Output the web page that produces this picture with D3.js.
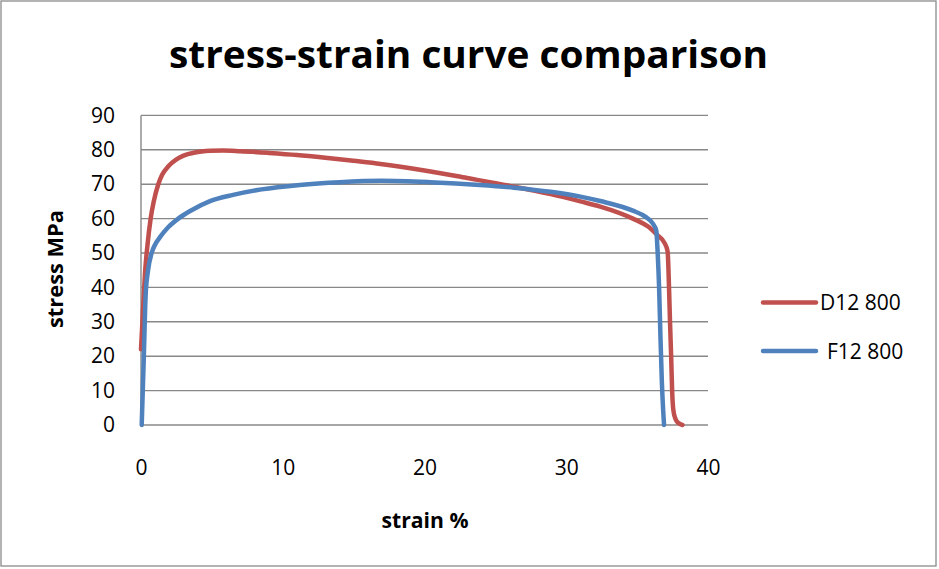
<!DOCTYPE html>
<html>
<head>
<meta charset="utf-8">
<script src="https://cdn.jsdelivr.net/npm/d3@7"></script>
<style>
  body { margin: 0; background: #fff; }
  svg { display: block; }
  text { font-family: "Open Sans", "DejaVu Sans", sans-serif; fill: #000; }
</style>
</head>
<body>
<svg id="chart" width="939" height="569"></svg>
<script>
// Axis ticks
const xTicks = [0, 10, 20, 30, 40];
const yTicks = [0, 10, 20, 30, 40, 50, 60, 70, 80, 90];

// Series names
const seriesNames = ["D12 800", "F12 800"];

// D12 800: strain (%) and stress (MPa)
const d12Strain = [0, 0.15, 0.28, 0.45, 0.68, 0.9, 1.22, 1.5, 1.93, 2.5, 3.0, 3.8, 4.9, 5.8, 7, 9, 11, 13, 15, 16.9, 20, 23, 26.3, 28.9, 31, 32.4, 34.7, 35.8, 36.4, 36.95, 37.15, 37.25, 37.32, 37.4, 37.47, 37.55, 37.7, 37.9, 38.2];
const d12Stress = [22, 34, 44, 52, 60, 65, 70, 72.8, 75.2, 77.2, 78.3, 79.2, 79.7, 79.8, 79.6, 79.1, 78.5, 77.7, 76.8, 75.9, 74.0, 71.8, 69.3, 67.1, 65.0, 63.5, 60.0, 57.6, 55.3, 52.8, 50.5, 40, 30, 20, 10, 4.5, 1.8, 0.6, 0];

// F12 800: strain (%) and stress (MPa)
const f12Strain = [0.05, 0.2, 0.33, 0.5, 0.75, 1.0, 1.34, 1.9, 2.63, 3.5, 4.87, 6.5, 8.5, 11.2, 14, 17, 20.4, 23.9, 26.3, 28.9, 31, 32.4, 34.7, 35.6, 36.1, 36.35, 36.45, 36.55, 36.65, 36.75, 36.9];
const f12Stress = [0, 20, 38, 45, 50, 52.5, 54.6, 57.4, 60, 62.3, 65.1, 66.9, 68.5, 69.8, 70.6, 71.0, 70.6, 69.8, 69.0, 67.8, 66.4, 65.1, 62.3, 60.5, 58.6, 56.5, 50, 40, 25, 12, 0];

const svg = d3.select("#chart");

const red = "#C0504D";
const blue = "#4F81BD";
const gridColor = "#888888";

// Outer chart frame
svg.append("rect")
  .attr("x", 1).attr("y", 1)
  .attr("width", 935).attr("height", 565)
  .attr("fill", "#fff")
  .attr("stroke", "#8a8a8a")
  .attr("stroke-width", 1.3);

const x = d3.scaleLinear().domain([0, 40]).range([141, 708]);
const y = d3.scaleLinear().domain([0, 90]).range([425, 115.4]);

// Horizontal gridlines
svg.append("g")
  .selectAll("line")
  .data(yTicks)
  .join("line")
  .attr("x1", x(0)).attr("x2", x(40))
  .attr("y1", d => y(d)).attr("y2", d => y(d))
  .attr("stroke", gridColor)
  .attr("stroke-width", 1.4);

// Vertical value axis line
svg.append("line")
  .attr("x1", x(0)).attr("x2", x(0))
  .attr("y1", y(0)).attr("y2", y(90))
  .attr("stroke", gridColor)
  .attr("stroke-width", 1.4);

// Y tick labels
const yAxis = svg.append("g")
  .attr("transform", `translate(${x(0)},0)`)
  .call(d3.axisLeft(y).tickValues(yTicks).tickSize(0).tickPadding(26));
yAxis.select(".domain").remove();
yAxis.selectAll("text")
  .attr("font-family", "Open Sans, sans-serif")
  .attr("font-size", 21)
  .attr("fill", "#000");

// X tick labels
const xAxis = svg.append("g")
  .attr("transform", `translate(0,${y(0)})`)
  .call(d3.axisBottom(x).tickValues(xTicks).tickSize(0).tickPadding(35));
xAxis.select(".domain").remove();
xAxis.selectAll("text")
  .attr("font-family", "Open Sans, sans-serif")
  .attr("font-size", 21)
  .attr("fill", "#000");

// Curves
const line = d3.line()
  .x(d => x(d[0]))
  .y(d => y(d[1]))
  .curve(d3.curveMonotoneX);

const d12 = d3.zip(d12Strain, d12Stress);
const f12 = d3.zip(f12Strain, f12Stress);

svg.append("path")
  .datum(d12)
  .attr("d", line)
  .attr("fill", "none")
  .attr("stroke", red)
  .attr("stroke-width", 4.5)
  .attr("stroke-linejoin", "round")
  .attr("stroke-linecap", "round");

svg.append("path")
  .datum(f12)
  .attr("d", line)
  .attr("fill", "none")
  .attr("stroke", blue)
  .attr("stroke-width", 4.5)
  .attr("stroke-linejoin", "round")
  .attr("stroke-linecap", "round");

// Title
svg.append("text")
  .attr("x", 169).attr("y", 68)
  .attr("font-size", 38)
  .attr("font-weight", "bold")
  .attr("textLength", 599)
  .attr("lengthAdjust", "spacingAndGlyphs")
  .text("stress-strain curve comparison");

// Axis titles
svg.append("text")
  .attr("transform", "translate(63,269) rotate(-90)")
  .attr("text-anchor", "middle")
  .attr("font-size", 21)
  .attr("font-weight", "bold")
  .attr("textLength", 118)
  .attr("lengthAdjust", "spacingAndGlyphs")
  .text("stress MPa");

svg.append("text")
  .attr("x", 425).attr("y", 528)
  .attr("text-anchor", "middle")
  .attr("font-size", 21)
  .attr("font-weight", "bold")
  .attr("textLength", 87)
  .attr("lengthAdjust", "spacingAndGlyphs")
  .text("strain %");

// Legend
const legend = [
  { name: seriesNames[0], color: red, y: 302.5, tx: 820 },
  { name: seriesNames[1], color: blue, y: 351, tx: 827 }
];
const lg = svg.append("g");
lg.selectAll("line")
  .data(legend)
  .join("line")
  .attr("x1", 763).attr("x2", 816)
  .attr("y1", d => d.y).attr("y2", d => d.y)
  .attr("stroke", d => d.color)
  .attr("stroke-width", 4.5)
  .attr("stroke-linecap", "round");
lg.selectAll("text")
  .data(legend)
  .join("text")
  .attr("x", d => d.tx)
  .attr("y", d => d.y)
  .attr("dy", "0.36em")
  .attr("font-size", 21)
  .text(d => d.name);
</script>
</body>
</html>
